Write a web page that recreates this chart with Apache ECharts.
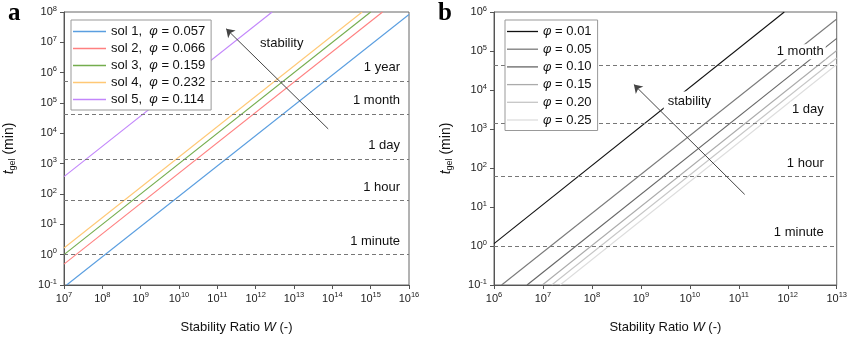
<!DOCTYPE html>
<html><head><meta charset="utf-8">
<script src="https://cdn.jsdelivr.net/npm/echarts@6/dist/echarts.min.js"></script>
<style>html,body{margin:0;padding:0;background:#fff}#c{width:850px;height:339px}</style>
</head><body><div id="c"></div>
<script>
// ---------- Panel a data ----------
const namesA = ['sol 1,  φ = 0.057','sol 2,  φ = 0.066','sol 3,  φ = 0.159','sol 4,  φ = 0.232','sol 5,  φ = 0.114'];
const colorsA = ['#5a9ee0','#ff8080','#74ad4e','#ffc875','#c286fb'];
const sol1 = [[1.17e7, 0.1], [1e16, 8.3e7]];
const sol2 = [[1e7, 0.49], [2.04e15, 1e8]];
const sol3 = [[1e7, 1.0], [1e15, 1e8]];
const sol4 = [[1e7, 1.66], [6.0e14, 1e8]];
const sol5 = [[1e7, 372], [2.69e12, 1e8]];
const seriesA = [sol1, sol2, sol3, sol4, sol5];
const timesA = [1, 60, 1440, 43200, 525600];
const timeNamesA = ['1 minute','1 hour','1 day','1 month','1 year'];
const arrowA = [[7.8e13, 1.4e4], [1.7e11, 2.8e7]];
const stabA = [4.8e12, 9.5e6];

// ---------- Panel b data ----------
const namesB = ['φ = 0.01','φ = 0.05','φ = 0.10','φ = 0.15','φ = 0.20','φ = 0.25'];
const colorsB = ['#111111','#7a7a7a','#666666','#ababab','#c6c6c6','#dddddd'];
const phi001 = [[1e6, 1.15], [8.5e11, 1e6]];
const phi005 = [[1.43e6, 0.1], [1e13, 6.6e5]];
const phi010 = [[4.73e6, 0.1], [1e13, 2.1e5]];
const phi015 = [[9.7e6, 0.1], [1e13, 1.03e5]];
const phi020 = [[1.51e7, 0.1], [1e13, 6.6e4]];
const phi025 = [[2.24e7, 0.1], [1e13, 4.5e4]];
const seriesB = [phi001, phi005, phi010, phi015, phi020, phi025];
const timesB = [1, 60, 1440, 43200];
const timeNamesB = ['1 minute','1 hour','1 day','1 month'];
const arrowB = [[1.32e11, 21], [7.2e8, 1.38e4]];
const stabB = [9.8e9, 5.2e3];

const xMinA = 1e7, xMaxA = 1e16, yMinA = 0.1, yMaxA = 1e8;
const xMinB = 1e6, xMaxB = 1e13, yMinB = 0.1, yMaxB = 1e6;

const FONT = 'Liberation Sans, Arial, sans-serif';
const powLabel = v => {
  const e = Math.round(Math.log10(v));
  return '{b|10}{s|' + e + '}';
};
const powRich = {
  b: {fontSize: 11, fontFamily: FONT, color: '#222'},
  s: {fontSize: 7.5, fontFamily: FONT, color: '#222', padding: [0, 0, 7, 0]}
};
function xAxis(idx, min, max) {
  return {
    type: 'log', logBase: 10, gridIndex: idx, min, max,
    name: '{n|Stability Ratio }{i|W}{n| (-)}', nameLocation: 'middle', nameGap: 36,
    nameTextStyle: {rich: {n: {fontSize: 13, fontFamily: FONT, color: '#111'}, i: {fontSize: 13, fontFamily: FONT, fontStyle: 'italic', color: '#111'}}},
    axisLine: {show: true, lineStyle: {color: '#555', width: 1}},
    axisTick: {show: true, inside: false, length: 4, lineStyle: {color: '#555'}},
    minorTick: {show: false}, splitLine: {show: false},
    axisLabel: {formatter: powLabel, rich: powRich, margin: 6}
  };
}
function yAxis(idx, min, max, gap) {
  return {
    type: 'log', logBase: 10, gridIndex: idx, min, max,
    name: '{i|t}{sub|gel}{n| (min)}', nameLocation: 'middle', nameGap: gap, nameRotate: 90,
    nameTextStyle: {rich: {
      n: {fontSize: 14, fontFamily: FONT, color: '#111'},
      i: {fontSize: 14, fontFamily: FONT, fontStyle: 'italic', color: '#111'},
      sub: {fontSize: 9, fontFamily: FONT, color: '#111', padding: [7, 0, 0, 0]}
    }},
    axisLine: {show: true, lineStyle: {color: '#555', width: 1}},
    axisTick: {show: true, inside: false, length: 4, lineStyle: {color: '#555'}},
    splitLine: {show: false},
    axisLabel: {formatter: powLabel, rich: powRich, margin: 7}
  };
}
function timeMarks(times, names, hdist) {
  return {
    silent: true, symbol: 'none', z: 5,
    lineStyle: {type: [4, 3], color: '#777', width: 1},
    label: {show: true, position: 'insideEndTop', formatter: '{b}', fontSize: 13, fontFamily: FONT, color: '#111',
            backgroundColor: '#fff', padding: [1, 2], distance: [hdist, 6]},
    data: times.map((t, i) => ({yAxis: t, name: names[i]}))
  };
}
function arrowMark(a) {
  return {
    silent: true, symbol: ['none', 'arrow'], symbolSize: 8, z: 5,
    lineStyle: {type: 'solid', color: '#444', width: 1},
    label: {show: false},
    data: [[{coord: a[0]}, {coord: a[1]}]]
  };
}
function stabMark(p) {
  return {
    silent: true, symbol: 'circle', symbolSize: 0, z: 6,
    label: {show: true, position: 'inside', formatter: 'stability', fontSize: 13, fontFamily: FONT, color: '#111',
            backgroundColor: '#fff', padding: [3, 4]},
    data: [{coord: p}]
  };
}
const series = [];
seriesA.forEach((d, i) => {
  const s = {type: 'line', name: namesA[i], xAxisIndex: 0, yAxisIndex: 0, data: d, symbol: 'none',
             lineStyle: {color: colorsA[i], width: 1.1}, itemStyle: {color: colorsA[i]}, clip: true, z: 2};
  if (i === 0) s.markLine = timeMarks(timesA, timeNamesA, 7);
  if (i === 1) { s.markLine = arrowMark(arrowA); s.markPoint = stabMark(stabA); }
  series.push(s);
});
seriesB.forEach((d, i) => {
  const s = {type: 'line', name: namesB[i], xAxisIndex: 1, yAxisIndex: 1, data: d, symbol: 'none',
             lineStyle: {color: colorsB[i], width: 1.1}, itemStyle: {color: colorsB[i]}, clip: true, z: 2};
  if (i === 0) s.markLine = timeMarks(timesB, timeNamesB, 11);
  if (i === 1) { s.markLine = arrowMark(arrowB); s.markPoint = stabMark(stabB); }
  series.push(s);
});
const legendFmt = n => n.replace('φ', '{i|φ}');
const legendRich = {i: {fontStyle: 'italic', fontSize: 13, fontFamily: FONT, color: '#111'}};
const option = {
  animation: false,
  backgroundColor: '#fff',
  grid: [
    {left: 64, right: 441, top: 12, bottom: 48, show: true, borderColor: '#666', borderWidth: 1, backgroundColor: 'transparent'},
    {left: 494, right: 11, top: 12, bottom: 49, show: true, borderColor: '#666', borderWidth: 1, backgroundColor: 'transparent'}
  ],
  xAxis: [xAxis(0, xMinA, xMaxA), xAxis(1, xMinB, xMaxB)],
  yAxis: [yAxis(0, yMinA, yMaxA, 47), yAxis(1, yMinB, yMaxB, 40)],
  legend: [
    {data: namesA, left: 71, top: 20, orient: 'vertical', z: 8, backgroundColor: '#fff', borderColor: '#999', borderWidth: 1,
     padding: [5, 6, 4, 2], icon: 'rect', itemWidth: 33, itemHeight: 1.3, itemGap: 4, selectedMode: false,
     formatter: legendFmt, textStyle: {fontSize: 13, fontFamily: FONT, color: '#111', lineHeight: 12, rich: legendRich}},
    {data: namesB, left: 505, top: 20, orient: 'vertical', z: 8, backgroundColor: '#fff', borderColor: '#999', borderWidth: 1,
     padding: [5, 6, 4, 2], icon: 'rect', itemWidth: 31, itemHeight: 1.3, itemGap: 4.7, selectedMode: false,
     formatter: legendFmt, textStyle: {fontSize: 13, fontFamily: FONT, color: '#111', lineHeight: 13, rich: legendRich}}
  ],
  graphic: [
    {type: 'text', left: 8, top: 1, style: {text: 'a', font: 'bold 25px "Liberation Serif", serif', fill: '#000'}},
    {type: 'text', left: 438, top: 1, style: {text: 'b', font: 'bold 25px "Liberation Serif", serif', fill: '#000'}}
  ],
  series
};
const chart = echarts.init(document.getElementById('c'), null, {renderer: 'canvas'});
chart.setOption(option);
</script></body></html>
